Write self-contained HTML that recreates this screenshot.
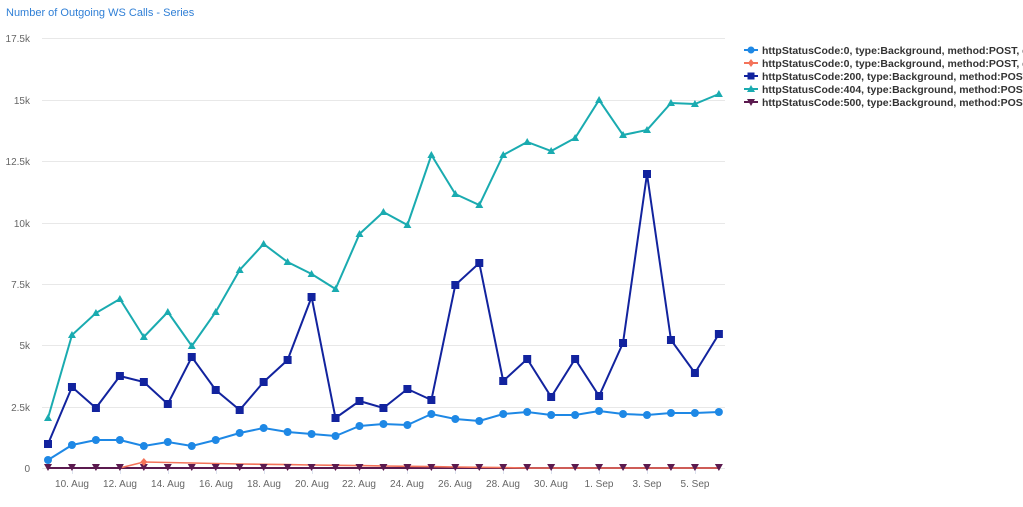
<!DOCTYPE html>
<html><head><meta charset="utf-8"><style>
body{margin:0;background:#fff;width:1023px;height:502px;overflow:hidden;font-family:"Liberation Sans",sans-serif}
</style></head><body>
<svg id="s" width="1023" height="502" xmlns="http://www.w3.org/2000/svg" font-family="Liberation Sans, sans-serif">
<text x="6" y="16" font-size="11" fill="#2f7fd6">Number of Outgoing WS Calls - Series</text>
<g stroke="#e8e8e8" stroke-width="1">
<line x1="42" x2="725" y1="38.5" y2="38.5"/><line x1="42" x2="725" y1="100.5" y2="100.5"/>
<line x1="42" x2="725" y1="161.5" y2="161.5"/><line x1="42" x2="725" y1="223.5" y2="223.5"/>
<line x1="42" x2="725" y1="284.5" y2="284.5"/><line x1="42" x2="725" y1="345.5" y2="345.5"/>
<line x1="42" x2="725" y1="407.5" y2="407.5"/><line x1="42" x2="725" y1="468.5" y2="468.5"/>
</g>
<g stroke="#dde3ef" stroke-width="1">
<line x1="72.5" x2="72.5" y1="469" y2="474"/><line x1="120.5" x2="120.5" y1="469" y2="474"/><line x1="168.5" x2="168.5" y1="469" y2="474"/>
<line x1="216.5" x2="216.5" y1="469" y2="474"/><line x1="264.5" x2="264.5" y1="469" y2="474"/><line x1="312.5" x2="312.5" y1="469" y2="474"/>
<line x1="359.5" x2="359.5" y1="469" y2="474"/><line x1="407.5" x2="407.5" y1="469" y2="474"/><line x1="455.5" x2="455.5" y1="469" y2="474"/>
<line x1="503.5" x2="503.5" y1="469" y2="474"/><line x1="551.5" x2="551.5" y1="469" y2="474"/><line x1="599.5" x2="599.5" y1="469" y2="474"/>
<line x1="647.5" x2="647.5" y1="469" y2="474"/><line x1="695.5" x2="695.5" y1="469" y2="474"/>
</g>
<g font-size="10" fill="#666" text-anchor="end">
<text x="30" y="42">17.5k</text><text x="30" y="104">15k</text><text x="30" y="165">12.5k</text>
<text x="30" y="227">10k</text><text x="30" y="288">7.5k</text><text x="30" y="349">5k</text>
<text x="30" y="411">2.5k</text><text x="30" y="472">0</text>
</g>
<g font-size="10" fill="#666" text-anchor="middle">
<text x="72" y="487">10. Aug</text><text x="120" y="487">12. Aug</text><text x="168" y="487">14. Aug</text>
<text x="216" y="487">16. Aug</text><text x="264" y="487">18. Aug</text><text x="312" y="487">20. Aug</text>
<text x="359" y="487">22. Aug</text><text x="407" y="487">24. Aug</text><text x="455" y="487">26. Aug</text>
<text x="503" y="487">28. Aug</text><text x="551" y="487">30. Aug</text><text x="599" y="487">1. Sep</text>
<text x="647" y="487">3. Sep</text><text x="695" y="487">5. Sep</text>
</g>
<g id="plot"></g>
<g font-size="10.5" font-weight="bold" fill="#333">
<line x1="744" x2="758" y1="50" y2="50" stroke="#1e88e5" stroke-width="2"/><circle cx="751" cy="50" r="3.5" fill="#1e88e5"/>
<text x="762" y="54">httpStatusCode:0, type:Background, method:POST, d</text>
<line x1="744" x2="758" y1="63" y2="63" stroke="#f4735a" stroke-width="2"/><path d="M751 59l3 4-3 4-3-4z" fill="#f4735a"/>
<text x="762" y="67">httpStatusCode:0, type:Background, method:POST, d</text>
<line x1="744" x2="758" y1="76" y2="76" stroke="#12239e" stroke-width="2"/><rect x="747.5" y="72.5" width="7" height="7" fill="#12239e"/>
<text x="762" y="80">httpStatusCode:200, type:Background, method:POST</text>
<line x1="744" x2="758" y1="89" y2="89" stroke="#1aabb0" stroke-width="2"/><path d="M751 85l4 7h-8z" fill="#1aabb0"/>
<text x="762" y="93">httpStatusCode:404, type:Background, method:POST</text>
<line x1="744" x2="758" y1="102" y2="102" stroke="#5b1a4f" stroke-width="2"/><path d="M751 106l4-7h-8z" fill="#5b1a4f"/>
<text x="762" y="106">httpStatusCode:500, type:Background, method:POST</text>
</g>
</svg>
<script>
var X=i=>48+i*23.96;
var teal=[418,335,313,299,337,312,346,312,270,244,262,274,289,234,212,225,155,194,205,155,142,151,138,100,135,130,103,104,94];
var navy=[444,387,408,376,382,404,357,390,410,382,360,297,418,401,408,389,400,285,263,381,359,397,359,396,343,174,340,373,334];
var blue=[460,445,440,440,446,442,446,440,433,428,432,434,436,426,424,425,414,419,421,414,412,415,415,411,414,415,413,413,412];
var orange=[null,null,null,468,462,462.5,463,463.5,464,464.3,464.6,465,465.3,465.6,466,466.3,466.6,467,467.3,467.6,468,468,468,468,468,468,468,468,468];
var purple=teal.map(()=>468);
var g=document.getElementById('plot'),h='';
function line(a,c,w){var p=[];a.forEach((y,i)=>{if(y!=null)p.push(X(i).toFixed(1)+','+y)});h+='<polyline fill="none" stroke="'+c+'" stroke-width="'+w+'" points="'+p.join(' ')+'"/>';}
line(purple,'#5b1a4f',2);line(orange,'#f4735a',1.6);line(blue,'#1e88e5',2);line(navy,'#12239e',2);line(teal,'#1aabb0',2);
purple.forEach((y,i)=>{var x=X(i);h+='<path d="M'+x+' '+(y+3)+'l4-7h-8z" fill="#5b1a4f"/>'});
h+='<path d="M'+X(4)+' 458l3.5 4-3.5 4-3.5-4z" fill="#f4735a"/>';
blue.forEach((y,i)=>{h+='<circle cx="'+X(i)+'" cy="'+y+'" r="4" fill="#1e88e5"/>'});
navy.forEach((y,i)=>{h+='<rect x="'+(X(i)-4)+'" y="'+(y-4)+'" width="8" height="8" fill="#12239e"/>'});
teal.forEach((y,i)=>{var x=X(i);h+='<path d="M'+x+' '+(y-4)+'l4 7h-8z" fill="#1aabb0"/>'});
g.innerHTML=h;
</script>
</body></html>
